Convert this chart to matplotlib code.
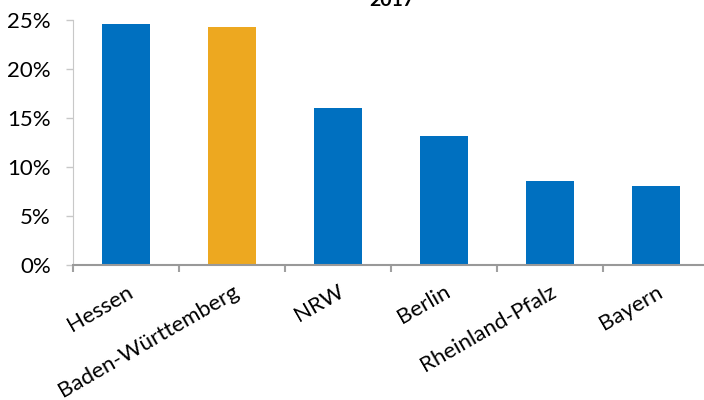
import matplotlib
matplotlib.use("Agg")
from matplotlib import pyplot as plt
from matplotlib.ticker import FuncFormatter
import numpy as np

laender = ["Hessen", "Baden-Württemberg", "NRW", "Berlin", "Rheinland-Pfalz", "Bayern"]
anteil = [24.6, 24.3, 16.0, 13.2, 8.6, 8.1]  # %
highlight = "Baden-Württemberg"

plt.rcParams['font.family'] = ['Lato', 'DejaVu Sans']

blue = '#0070C0'
orange = '#EDA820'

fig = plt.figure(figsize=(7.04, 4), dpi=100)
ax = fig.add_axes((73 / 704, 135 / 400, 636 / 704, 245 / 400))

x = np.arange(len(laender))
colors = [orange if l == highlight else blue for l in laender]
ax.bar(x, anteil, width=0.46, color=colors, zorder=2)

ax.set_xlim(-0.5, len(laender) - 0.5)
ax.set_ylim(0, 25)
ax.set_yticks(np.arange(0, 26, 5))
ax.yaxis.set_major_formatter(FuncFormatter(lambda v, p: f'{v:.0f}%'))

# category boundaries as tick marks, labels at bar centres
ax.set_xticks(np.arange(-0.5, len(laender) + 0.5, 1))
ax.set_xticklabels([])
ax.set_xticks(x, minor=True)
ax.set_xticklabels(laender, minor=True, rotation=30, ha='right', rotation_mode='anchor', fontsize=16)
ax.tick_params(axis='x', which='minor', length=0, pad=12)
ax.tick_params(axis='x', which='major', length=5, width=1.5, color='#A0A0A0')
ax.tick_params(axis='y', length=5, width=1, color='#C8C8C8', labelsize=16, pad=11)

for side in ['top', 'right']:
    ax.spines[side].set_visible(False)
ax.spines['left'].set_color('#C8C8C8')
ax.spines['bottom'].set_color('#999999')
ax.spines['bottom'].set_linewidth(1.5)

fig.text(392 / 704, 394 / 400, '2017', ha='center', va='baseline', fontsize=14, fontweight='bold')

fig.savefig('out.png', dpi=100)
